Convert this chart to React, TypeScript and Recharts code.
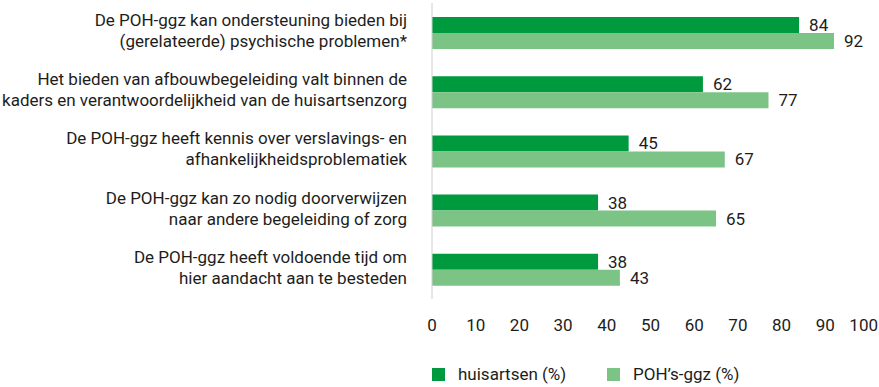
import { BarChart, Bar, XAxis, YAxis, Legend, LabelList } from "recharts";

const categories = [
  "De POH-ggz kan ondersteuning bieden bij\n(gerelateerde) psychische problemen*",
  "Het bieden van afbouwbegeleiding valt binnen de\nkaders en verantwoordelijkheid van de huisartsenzorg",
  "De POH-ggz heeft kennis over verslavings- en\nafhankelijkheidsproblematiek",
  "De POH-ggz kan zo nodig doorverwijzen\nnaar andere begeleiding of zorg",
  "De POH-ggz heeft voldoende tijd om\nhier aandacht aan te besteden",
];
const huisartsen = [84, 62, 45, 38, 38];
const pohGgz = [92, 77, 67, 65, 43];
const xTicks = [0, 10, 20, 30, 40, 50, 60, 70, 80, 90, 100];

const DARK = "#009a3e";
const LIGHT = "#7cc386";
const TEXT = "#1d1d1b";
const FONT = "Roboto, 'DejaVu Sans', sans-serif";

const data = categories.map((name, i) => ({
  name,
  huisartsen: huisartsen[i],
  poh: pohGgz[i],
}));

function CategoryTick({ x, y, payload }: any) {
  const lines = String(payload.value).split("\n");
  return (
    <text x={x - 17} y={y} textAnchor="end" fill={TEXT} fontSize={17} fontFamily={FONT}>
      {lines.map((line, i) => (
        <tspan key={i} x={x - 17} y={y + (i === 0 ? -11 : 10)} dominantBaseline="middle">
          {line}
        </tspan>
      ))}
    </text>
  );
}

function ValueTick({ x, y, payload }: any) {
  // keep "100" inside the frame
  const last = payload.value === 100;
  return (
    <text
      x={last ? 878 : x}
      y={y}
      dy="0.71em"
      textAnchor={last ? "end" : "middle"}
      fill={TEXT}
      fontSize={17}
      fontFamily={FONT}
    >
      {payload.value}
    </text>
  );
}

function LegendBox() {
  const items = [
    { label: "huisartsen (%)", color: DARK },
    { label: "POH\u2019s-ggz (%)", color: LIGHT },
  ];
  return (
    <div style={{ display: "flex", fontFamily: FONT, fontSize: 17, color: TEXT, lineHeight: "20px" }}>
      {items.map((it) => (
        <div key={it.label} style={{ display: "flex", alignItems: "center", width: 175 }}>
          <div style={{ width: 13, height: 13, background: it.color, marginRight: 13 }} />
          <span>{it.label}</span>
        </div>
      ))}
    </div>
  );
}

export default function App() {
  return (
    <div style={{ position: "absolute", left: 0, top: 0, background: "#fff" }}>
      <BarChart
        width={879}
        height={387}
        data={data}
        layout="vertical"
        margin={{ top: 3, right: 10, bottom: 38, left: 0 }}
        barSize={16}
        barGap={0}
      >
        <XAxis
          type="number"
          domain={[0, 100]}
          ticks={xTicks}
          axisLine={false}
          tickLine={false}
          tickMargin={14}
          tick={<ValueTick />}
        />
        <YAxis
          type="category"
          dataKey="name"
          width={432}
          axisLine={{ stroke: "#d0d0d0" }}
          tickLine={false}
          tick={<CategoryTick />}
          interval={0}
        />
        <Legend
          verticalAlign="bottom"
          content={<LegendBox />}
          wrapperStyle={{ left: 432, top: 364, width: 400 }}
        />
        <Bar dataKey="huisartsen" fill={DARK} isAnimationActive={false}>
          <LabelList dataKey="huisartsen" position="right" offset={10} fill={TEXT} fontSize={17} fontFamily={FONT} />
        </Bar>
        <Bar dataKey="poh" fill={LIGHT} isAnimationActive={false}>
          <LabelList dataKey="poh" position="right" offset={10} fill={TEXT} fontSize={17} fontFamily={FONT} />
        </Bar>
      </BarChart>
    </div>
  );
}
